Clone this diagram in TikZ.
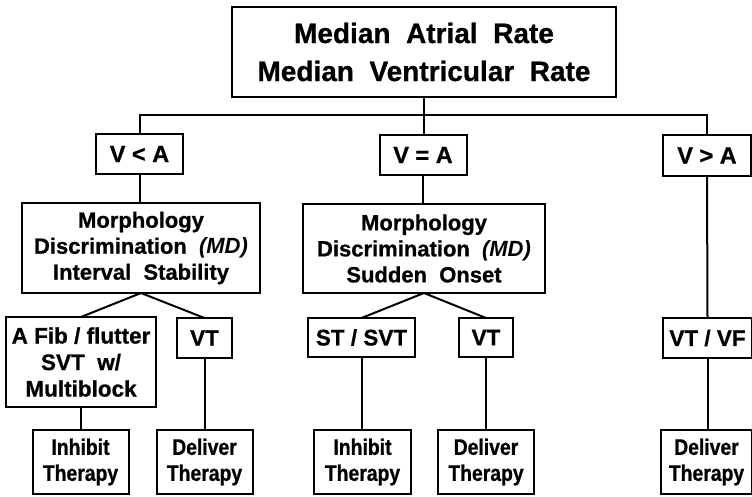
\documentclass[tikz,border=0pt]{standalone}
\usepackage{fontspec}
\setmainfont{Liberation Sans}[BoldFeatures={FakeBold=0.8}]
\newfontfamily\condfont{Liberation Sans}[FakeStretch=0.86,BoldFeatures={FakeBold=0.8}]
\begin{document}
\begin{tikzpicture}[x=1pt,y=-1pt,
  box/.style={draw, line width=2pt, inner sep=0pt, outer sep=0pt, align=center, font=\bfseries},
  conn/.style={line width=2pt},
  title/.style={box, font=\fontsize{28}{38}\selectfont\bfseries},
  cond/.style={box, font=\fontsize{23.5}{28}\selectfont\bfseries},
  md/.style={box, font=\fontsize{22}{26}\selectfont\bfseries},
  res/.style={box, font=\fontsize{22.5}{26.5}\selectfont\bfseries},
  act/.style={box, font=\condfont\fontsize{22.5}{26}\selectfont\bfseries}]
\useasboundingbox (0,0) rectangle (752,496);
% level 0
\node[title, minimum width=384pt, minimum height=90pt] (top) at (424,52) {Median\ \ Atrial\ \ Rate\\Median\ \ Ventricular\ \ Rate};
% level 1
\node[cond, minimum width=87pt, minimum height=40pt] (vla) at (139.5,154) {V < A};
\node[cond, minimum width=87pt, minimum height=40pt] (vea) at (423,155) {V = A};
\node[cond, minimum width=88pt, minimum height=41pt] (vga) at (707,155.5) {V > A};
\coordinate (bus) at (0,115);
% level 2
\node[md, minimum width=238pt, minimum height=90pt] (md1) at (141,248) {Morphology\\Discrimination\ \ \textit{(MD)}\\Interval\ \ Stability};
\node[md, minimum width=242pt, minimum height=89pt] (md2) at (424,248.5) {Morphology\\Discrimination\ \ \textit{(MD)}\\Sudden\ \ Onset};
% level 3
\node[res, minimum width=150pt, minimum height=90pt] (afib) at (81,362) {A Fib / flutter\\SVT\ \ w/\\Multiblock};
\node[res, minimum width=55pt, minimum height=40pt] (vt1) at (204.5,338) {VT};
\node[res, minimum width=107pt, minimum height=39pt] (st) at (361.5,337.5) {ST / SVT};
\node[res, minimum width=54pt, minimum height=39pt] (vt2) at (486,337.5) {VT};
\node[res, minimum width=89pt, minimum height=40pt] (vtvf) at (707.5,338) {VT / VF};
% level 4
\node[act, minimum width=96pt, minimum height=64pt] (inh1) at (80.5,462) {Inhibit\\Therapy};
\node[act, minimum width=96pt, minimum height=64pt] (del1) at (204.5,462) {Deliver\\Therapy};
\node[act, minimum width=97pt, minimum height=64pt] (inh2) at (362.5,462) {Inhibit\\Therapy};
\node[act, minimum width=96pt, minimum height=64pt] (del2) at (486,462) {Deliver\\Therapy};
\node[act, minimum width=91pt, minimum height=64pt] (del3) at (706.5,462) {Deliver\\Therapy};
% connectors
\draw[conn] (top.south) -- (top.south |- vea.north);
\draw[conn] (vla.north) -- (vla.north |- bus) -- (vga.north |- bus) -- (vga.north);
\draw[conn] (vla.south) -- (vla.south |- md1.north);
\draw[conn] (vea.south) -- (vea.south |- md2.north);
\draw[conn] (afib.north) -- (md1.south) -- (vt1.north);
\draw[conn] (st.north) -- (md2.south) -- (vt2.north);
\draw[conn] (afib.south) -- (afib.south |- inh1.north);
\draw[conn] (vt1.south) -- (vt1.south |- del1.north);
\draw[conn] (st.south) -- (st.south |- inh2.north);
\draw[conn] (vt2.south) -- (vt2.south |- del2.north);
\draw[conn] (vga.south) -- (vtvf.north);
\draw[conn] (vtvf.south) -- (vtvf.south |- del3.north);
\end{tikzpicture}
\end{document}
